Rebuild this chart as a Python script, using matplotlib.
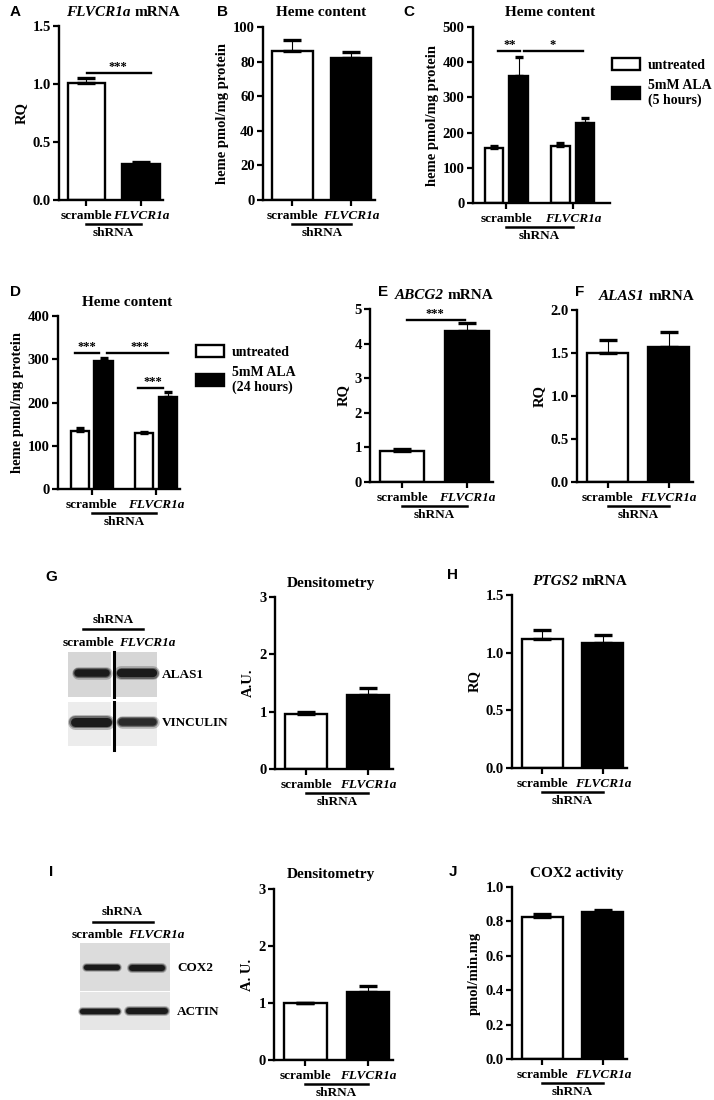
import matplotlib
matplotlib.use('Agg')
import matplotlib.pyplot as plt
from matplotlib.patches import Patch, Rectangle
from matplotlib import transforms
import numpy as np

plt.rcParams['font.family'] = ['Liberation Serif', 'DejaVu Serif']
plt.rcParams['font.weight'] = 'bold'
plt.rcParams['axes.titleweight'] = 'bold'
plt.rcParams['axes.labelweight'] = 'bold'

# ---- data ----
groups = ['scramble', 'FLVCR1a']

a_mean, a_err = [1.01, 0.31], [0.04, 0.015]
b_mean, b_err = [86, 82], [6.5, 3.5]
c_untr, c_untr_err = [155, 163], [6, 8]
c_ala, c_ala_err = [360, 226], [55, 15]
d_untr, d_untr_err = [135, 129], [7, 2]
d_ala, d_ala_err = [296, 212], [8, 13]
e_mean, e_err = [0.9, 4.37], [0.05, 0.22]
f_mean, f_err = [1.5, 1.57], [0.15, 0.17]
g_mean, g_err = [0.96, 1.29], [0.04, 0.12]
h_mean, h_err = [1.12, 1.08], [0.08, 0.07]
i_mean, i_err = [1.0, 1.19], [0.005, 0.11]
j_mean, j_err = [0.825, 0.855], [0.02, 0.012]

W, H = 714, 1100
fig = plt.figure(figsize=(W / 100, H / 100), dpi=100)
renderer = fig.canvas.get_renderer()

# overlay in pixel coords for blots, titles and panel letters
ov = fig.add_axes([0, 0, 1, 1])
ov.set_xlim(0, W)
ov.set_ylim(H, 0)
ov.axis('off')

FS = 9.5      # x labels, blot labels
FSY = 10.5    # y tick labels
FSL = 10.5    # y axis labels
FST = 11      # titles


def make_ax(l, t, r, b):
    return fig.add_axes([l / W, 1 - b / H, (r - l) / W, (b - t) / H])


def text_w(s, **kw):
    t = ov.text(0, 0, s, **kw)
    w = t.get_window_extent(renderer).width
    t.remove()
    return w


def title(ax, cx, s, ital=None):
    # title centred at pixel x cx, with optional italic gene name in front
    bb = ax.get_position()
    y = (1 - bb.y1) * H - 14
    if ital is None:
        ov.text(cx, y, s, ha='center', va='center', fontsize=FST)
        return
    w1 = text_w(ital, fontsize=FST, style='italic')
    w2 = text_w(s, fontsize=FST)
    x0 = cx - (w1 + 4 + w2) / 2
    ov.text(x0, y, ital, ha='left', va='center', fontsize=FST, style='italic')
    ov.text(x0 + w1 + 4, y, s, ha='left', va='center', fontsize=FST)


def style(ax, yticks, fmt, ylabel, xlim):
    for s in ['top', 'right']:
        ax.spines[s].set_visible(False)
    for s in ['left', 'bottom']:
        ax.spines[s].set_linewidth(1.7)
    ax.set_ylim(yticks[0], yticks[-1])
    ax.set_yticks(yticks)
    ax.set_yticklabels([fmt.format(v) for v in yticks])
    ax.set_xlim(*xlim)
    ax.tick_params(direction='out', length=4, width=1.6, pad=2)
    ax.tick_params(axis='y', labelsize=FSY)
    ax.set_ylabel(ylabel, fontsize=FSL, labelpad=3)


def xlabels(ax, ticks, span=(0, 1)):
    ax.set_xticks(ticks)
    ax.set_xticklabels(groups)
    ax.get_xticklabels()[1].set_style('italic')
    ax.tick_params(axis='x', length=4, pad=3, labelsize=FS)
    tr = transforms.offset_copy(ax.get_xaxis_transform(), fig=fig, y=-24, units='dots')
    ax.plot(span, [0, 0], transform=tr, color='black', lw=1.8, clip_on=False)
    tr2 = transforms.offset_copy(ax.get_xaxis_transform(), fig=fig, y=-33, units='dots')
    ax.text(np.mean(span), 0, 'shRNA', transform=tr2, ha='center', va='center', fontsize=FS)


def bars(ax, x, means, errs, colors, width):
    ax.bar(x, means, width=width, color=colors, edgecolor='black', linewidth=1.7, zorder=2)
    ax.errorbar(x, means, yerr=[np.zeros(len(errs)), errs], fmt='none', ecolor='black',
                elinewidth=0.8, capsize=width * 10, capthick=2.4, zorder=3)


def two_bar(box, means, errs, yticks, fmt, ylabel):
    ax = make_ax(*box)
    x = np.arange(2)
    bars(ax, x, means, errs, ['white', 'black'], 0.68)
    style(ax, yticks, fmt, ylabel, (-0.5, 1.4))
    xlabels(ax, x)
    return ax


def sig(ax, x0, x1, y, stars, xs):
    ax.plot([x0, x1], [y, y], color='black', lw=1.7, zorder=4)
    ax.text(xs, y, stars, ha='center', va='bottom', fontsize=9)


def grouped(box, untr, untr_err, ala, ala_err, yticks, xlim):
    ax = make_ax(*box)
    g = np.arange(2)
    bars(ax, g - 0.185, untr, untr_err, 'white', 0.28)
    bars(ax, g + 0.185, ala, ala_err, 'black', 0.28)
    style(ax, yticks, '{:.0f}', 'heme pmol/mg protein', xlim)
    xlabels(ax, g)
    return ax


def legend(ax, x, y, label):
    handles = [Patch(facecolor='white', edgecolor='black', linewidth=1.7),
               Patch(facecolor='black', edgecolor='black', linewidth=1.7)]
    ax.legend(handles, ['untreated', label], loc='upper left', bbox_to_anchor=(x / W, 1 - y / H),
              bbox_transform=fig.transFigure, frameon=False, fontsize=10, handlelength=2.0,
              handleheight=0.9, handletextpad=0.6, labelspacing=0.5, borderpad=0, borderaxespad=0)


def letter(x, y, s):
    ov.text(x, y, s, family='Liberation Sans', weight='bold', fontsize=11, ha='left', va='center')


# ---- A ----
ax = two_bar((59, 26, 163, 200), a_mean, a_err, [0, 0.5, 1.0, 1.5], '{:.1f}', 'RQ')
title(ax, 123, 'mRNA', 'FLVCR1a')
sig(ax, 0.02, 1.18, 1.095, '***', 0.57)

# ---- B ----
ax = two_bar((263, 27, 375, 200), b_mean, b_err, [0, 20, 40, 60, 80, 100], '{:.0f}',
             'heme pmol/mg protein')
title(ax, 321, 'Heme content')

# ---- C ----
ax = grouped((473, 27, 610, 203), c_untr, c_untr_err, c_ala, c_ala_err,
             [0, 100, 200, 300, 400, 500], (-0.5, 1.56))
title(ax, 550, 'Heme content')
sig(ax, -0.12, 0.21, 432, '**', 0.05)
sig(ax, 0.26, 1.16, 432, '*', 0.7)
legend(ax, 612, 58, '5mM ALA\n(5 hours)')

# ---- D ----
ax = grouped((58, 316, 180, 489), d_untr, d_untr_err, d_ala, d_ala_err,
             [0, 100, 200, 300, 400], (-0.52, 1.37))
title(ax, 127, 'Heme content')
sig(ax, -0.26, 0.12, 315, '***', -0.07)
sig(ax, 0.24, 1.19, 315, '***', 0.75)
sig(ax, 0.72, 1.11, 233, '***', 0.95)
legend(ax, 196, 345, '5mM ALA\n(24 hours)')

# ---- E, F ----
ax = two_bar((370, 309, 493, 482), e_mean, e_err, [0, 1, 2, 3, 4, 5], '{:.0f}', 'RQ')
title(ax, 444, 'mRNA', 'ABCG2')
sig(ax, 0.07, 0.96, 4.68, '***', 0.5)
ax = two_bar((577, 310, 693, 482), f_mean, f_err, [0, 0.5, 1.0, 1.5, 2.0], '{:.1f}', 'RQ')
title(ax, 647, 'mRNA', 'ALAS1')

# ---- G, H ----
ax = two_bar((275, 597, 393, 769), g_mean, g_err, [0, 1, 2, 3], '{:.0f}', 'A.U.')
title(ax, 331, 'Densitometry')
ax = two_bar((512, 595, 627, 768), h_mean, h_err, [0, 0.5, 1.0, 1.5], '{:.1f}', 'RQ')
title(ax, 580, 'mRNA', 'PTGS2')

# ---- I, J ----
ax = two_bar((274, 889, 393, 1060), i_mean, i_err, [0, 1, 2, 3], '{:.0f}', 'A. U.')
title(ax, 331, 'Densitometry')
ax = two_bar((512, 887, 627, 1059), j_mean, j_err, [0, 0.2, 0.4, 0.6, 0.8, 1.0], '{:.1f}',
             'pmol/min.mg')
title(ax, 577, 'COX2 activity')


# ---- western blots ----
def band(x0, x1, yc, h, dark=0.92):
    for scale, a in [(1.25, 0.25), (1.0, 0.45), (0.75, dark)]:
        ov.plot([x0, x1], [yc, yc], color='#141414', lw=h * 0.72 * scale, alpha=a,
                solid_capstyle='round')


def blot_header(cx, y_sh, x0, x1, y_line, x_scr, x_flv, y_lab):
    ov.text(cx, y_sh, 'shRNA', ha='center', va='center', fontsize=FS)
    ov.plot([x0, x1], [y_line, y_line], color='black', lw=1.8)
    ov.text(x_scr, y_lab, 'scramble', ha='center', va='center', fontsize=FS)
    ov.text(x_flv, y_lab, 'FLVCR1a', ha='center', va='center', fontsize=FS, style='italic')


# G blot
blot_header(113, 620, 83, 143, 629, 88, 147, 643)
ov.add_patch(Rectangle((68, 652), 89, 45, facecolor='#d6d6d6', edgecolor='none'))
ov.add_patch(Rectangle((68, 702), 89, 44, facecolor='#ececec', edgecolor='none'))
band(78, 106, 673, 10)
band(121, 153, 673, 11)
band(75, 107, 722, 12)
band(122, 153, 722, 10, 0.75)
ov.add_patch(Rectangle((111, 650), 5, 100, facecolor='white', edgecolor='none'))
ov.plot([113.5, 113.5], [652, 697], color='black', lw=2.2)
ov.plot([113.5, 113.5], [702, 750], color='black', lw=2.2)
ov.text(162, 675, 'ALAS1', ha='left', va='center', fontsize=FS)
ov.text(162, 723, 'VINCULIN', ha='left', va='center', fontsize=FS)

# I blot
blot_header(122, 912, 93, 153, 922, 97, 156, 935)
ov.add_patch(Rectangle((80, 943), 90, 48, facecolor='#dcdcdc', edgecolor='none'))
ov.add_patch(Rectangle((80, 992), 90, 38, facecolor='#e6e6e6', edgecolor='none'))
band(86, 117, 967, 7)
band(132, 162, 968, 8)
band(82, 117, 1011, 7)
band(129, 165, 1011, 8)
ov.text(177, 968, 'COX2', ha='left', va='center', fontsize=FS)
ov.text(177, 1012, 'ACTIN', ha='left', va='center', fontsize=FS)

# ---- panel letters ----
for x, y, s in [(10, 12, 'A'), (217, 12, 'B'), (403, 12, 'C'), (10, 292, 'D'),
                (378, 292, 'E'), (575, 292, 'F'), (45, 577, 'G'), (447, 575, 'H'),
                (49, 872, 'I'), (449, 872, 'J')]:
    letter(x, y, s)

fig.savefig('out.png', dpi=100)
